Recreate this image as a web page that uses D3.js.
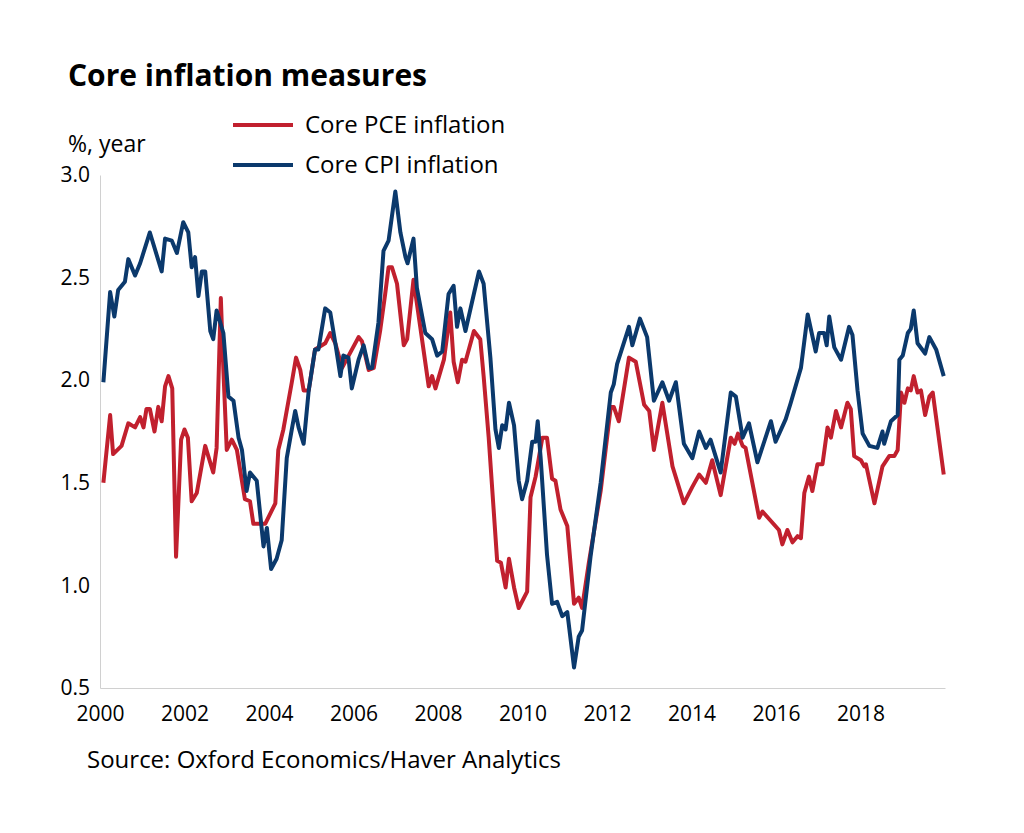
<!DOCTYPE html>
<html><head><meta charset="utf-8">
<script src="https://cdn.jsdelivr.net/npm/d3@7"></script>
<style>body{margin:0;background:#fff;font-family:"Open Sans",sans-serif;}</style>
</head><body><div id="chart"></div>
<script>
const cpiDates = [2000.08,2000.24,2000.34,2000.43,2000.59,2000.67,2000.83,2000.95,2001.18,2001.46,2001.54,2001.70,2001.82,2001.97,2002.09,2002.17,2002.25,2002.33,2002.41,2002.49,2002.61,2002.68,2002.76,2002.92,2003.04,2003.16,2003.28,2003.36,2003.47,2003.55,2003.71,2003.87,2003.95,2004.05,2004.18,2004.30,2004.42,2004.54,2004.62,2004.70,2004.82,2004.94,2005.09,2005.17,2005.33,2005.45,2005.57,2005.69,2005.76,2005.88,2005.96,2006.12,2006.24,2006.36,2006.44,2006.59,2006.71,2006.83,2006.99,2007.11,2007.23,2007.28,2007.42,2007.50,2007.70,2007.86,2007.98,2008.10,2008.25,2008.37,2008.45,2008.53,2008.65,2008.97,2009.08,2009.24,2009.36,2009.44,2009.52,2009.60,2009.68,2009.80,2009.91,2009.99,2010.11,2010.23,2010.31,2010.36,2010.43,2010.58,2010.70,2010.82,2010.94,2011.06,2011.22,2011.33,2011.41,2011.61,2011.85,2012.09,2012.16,2012.24,2012.52,2012.60,2012.78,2012.95,2013.11,2013.31,2013.47,2013.63,2013.82,2014.02,2014.18,2014.34,2014.45,2014.69,2014.93,2015.05,2015.21,2015.36,2015.56,2015.88,2015.99,2016.23,2016.35,2016.59,2016.75,2016.94,2017.02,2017.14,2017.20,2017.26,2017.38,2017.54,2017.73,2017.81,2017.93,2018.05,2018.21,2018.40,2018.52,2018.56,2018.72,2018.88,2018.92,2019.00,2019.12,2019.19,2019.26,2019.35,2019.53,2019.63,2019.79,2019.97];
const cpiValues = [1.99,2.43,2.31,2.44,2.48,2.59,2.51,2.57,2.72,2.53,2.69,2.68,2.62,2.77,2.72,2.55,2.60,2.41,2.53,2.53,2.24,2.20,2.34,2.23,1.92,1.90,1.72,1.66,1.46,1.55,1.51,1.19,1.28,1.08,1.13,1.22,1.62,1.76,1.85,1.77,1.69,1.95,2.15,2.15,2.35,2.33,2.18,2.02,2.12,2.11,1.96,2.10,2.17,2.06,2.06,2.28,2.63,2.68,2.92,2.72,2.60,2.57,2.69,2.45,2.23,2.20,2.12,2.14,2.42,2.46,2.26,2.35,2.24,2.53,2.47,2.11,1.76,1.67,1.78,1.76,1.89,1.78,1.51,1.42,1.51,1.70,1.70,1.80,1.62,1.15,0.91,0.92,0.85,0.87,0.60,0.75,0.78,1.14,1.50,1.94,1.98,2.08,2.26,2.17,2.30,2.21,1.90,1.99,1.90,1.99,1.69,1.62,1.75,1.67,1.71,1.55,1.94,1.92,1.72,1.79,1.60,1.80,1.70,1.81,1.89,2.06,2.32,2.14,2.23,2.23,2.17,2.31,2.16,2.10,2.26,2.22,1.95,1.74,1.68,1.67,1.75,1.69,1.80,1.83,2.10,2.12,2.23,2.25,2.34,2.18,2.13,2.21,2.15,2.02];
const pceDates = [2000.08,2000.24,2000.31,2000.51,2000.67,2000.83,2000.95,2001.03,2001.10,2001.18,2001.29,2001.38,2001.46,2001.54,2001.62,2001.71,2001.80,2001.92,2002.00,2002.08,2002.17,2002.29,2002.49,2002.68,2002.76,2002.86,2002.92,2003.00,2003.12,2003.24,2003.43,2003.55,2003.63,2003.91,2004.15,2004.22,2004.34,2004.54,2004.64,2004.74,2004.82,2004.94,2005.09,2005.33,2005.45,2005.57,2005.73,2006.12,2006.20,2006.36,2006.48,2006.63,2006.75,2006.83,2006.91,2007.03,2007.19,2007.27,2007.42,2007.58,2007.78,2007.86,2007.94,2008.14,2008.29,2008.37,2008.47,2008.57,2008.65,2008.85,2009.00,2009.08,2009.20,2009.40,2009.49,2009.60,2009.68,2009.80,2009.91,2010.11,2010.19,2010.31,2010.47,2010.58,2010.70,2010.78,2010.90,2011.06,2011.22,2011.33,2011.41,2011.57,2011.85,2012.09,2012.16,2012.28,2012.52,2012.68,2012.88,2013.00,2013.11,2013.31,2013.55,2013.82,2014.02,2014.18,2014.34,2014.49,2014.69,2014.93,2015.02,2015.10,2015.21,2015.28,2015.60,2015.68,2016.07,2016.15,2016.27,2016.39,2016.51,2016.59,2016.67,2016.78,2016.86,2016.98,2017.10,2017.22,2017.30,2017.42,2017.54,2017.69,2017.77,2017.85,2018.01,2018.09,2018.13,2018.33,2018.52,2018.68,2018.80,2018.88,2018.96,2019.04,2019.12,2019.19,2019.26,2019.35,2019.43,2019.53,2019.63,2019.71,2019.97];
const pceValues = [1.50,1.83,1.64,1.68,1.79,1.77,1.82,1.77,1.86,1.86,1.75,1.87,1.80,1.97,2.02,1.96,1.14,1.71,1.76,1.72,1.41,1.45,1.68,1.55,1.67,2.40,2.05,1.66,1.71,1.66,1.42,1.41,1.30,1.30,1.40,1.66,1.76,1.99,2.11,2.05,1.95,1.95,2.15,2.18,2.23,2.18,2.06,2.21,2.19,2.05,2.06,2.24,2.42,2.55,2.55,2.47,2.17,2.20,2.49,2.26,1.97,2.02,1.96,2.10,2.33,2.09,1.99,2.10,2.09,2.24,2.20,2.02,1.72,1.12,1.11,0.99,1.13,0.99,0.89,0.97,1.43,1.53,1.72,1.72,1.52,1.51,1.37,1.29,0.91,0.94,0.89,1.11,1.46,1.87,1.87,1.80,2.11,2.09,1.88,1.85,1.66,1.89,1.58,1.40,1.48,1.54,1.50,1.61,1.44,1.72,1.69,1.74,1.68,1.67,1.33,1.36,1.27,1.20,1.27,1.21,1.24,1.23,1.45,1.53,1.46,1.59,1.59,1.77,1.72,1.85,1.77,1.89,1.86,1.63,1.61,1.58,1.59,1.40,1.58,1.63,1.63,1.66,1.94,1.89,1.96,1.95,2.02,1.94,1.95,1.83,1.92,1.94,1.54];
const xTicks = [2000,2002,2004,2006,2008,2010,2012,2014,2016,2018];
const yTicks = [0.5,1.0,1.5,2.0,2.5,3.0];
const series = [
  {name: "Core PCE inflation", dates: pceDates, values: pceValues, color: "#c1202e"},
  {name: "Core CPI inflation", dates: cpiDates, values: cpiValues, color: "#0b396c"}
];

const W = 1024, H = 833;
const margin = {top: 175, right: 79, bottom: 145, left: 100};
const font = "'Open Sans', sans-serif";
const svg = d3.select("#chart").append("svg").attr("width", W).attr("height", H);

const x = d3.scaleLinear().domain([2000, 2020]).range([margin.left, W - margin.right]);
const y = d3.scaleLinear().domain([0.5, 3.0]).range([H - margin.bottom, margin.top]);

svg.append("text").attr("x", 68).attr("y", 86).attr("font-size", 30).attr("font-weight", "bold")
  .text("Core inflation measures");
svg.append("text").attr("x", 68).attr("y", 152).attr("font-size", 23).text("%, year");

svg.append("g")
  .attr("transform", `translate(0,${y(0.5)})`)
  .call(d3.axisBottom(x).tickValues(xTicks).tickFormat(d3.format("d")).tickSize(0).tickPadding(18))
  .call(g => g.select(".domain").attr("stroke", "#d0d0d0"))
  .call(g => g.selectAll("text").attr("font-size", 21).attr("font-family", font).attr("fill", "#000"));

svg.append("g")
  .attr("transform", `translate(${margin.left},0)`)
  .call(d3.axisLeft(y).tickValues(yTicks).tickFormat(d3.format(".1f")).tickSize(0).tickPadding(10))
  .call(g => g.select(".domain").attr("stroke", "#d0d0d0"))
  .call(g => g.selectAll("text").attr("font-size", 21).attr("font-family", font).attr("fill", "#000"));

const line = d3.line().x(d => x(d[0])).y(d => y(d[1]));
series.forEach(s => {
  svg.append("path")
    .datum(s.dates.map((d, i) => [d, s.values[i]]))
    .attr("fill", "none").attr("stroke", s.color).attr("stroke-width", 4)
    .attr("stroke-linejoin", "round").attr("d", line);
});

const legend = svg.append("g").selectAll("g").data(series).join("g")
  .attr("transform", (d, i) => `translate(233,${125 + i * 40})`);
legend.append("line").attr("x1", 0).attr("x2", 60).attr("stroke", d => d.color).attr("stroke-width", 4);
legend.append("text").attr("x", 72).attr("dy", "0.35em").attr("font-size", 24).text(d => d.name);

svg.append("text").attr("x", 87).attr("y", 768).attr("font-size", 24).text("Source: Oxford Economics/Haver Analytics");
</script></body></html>
